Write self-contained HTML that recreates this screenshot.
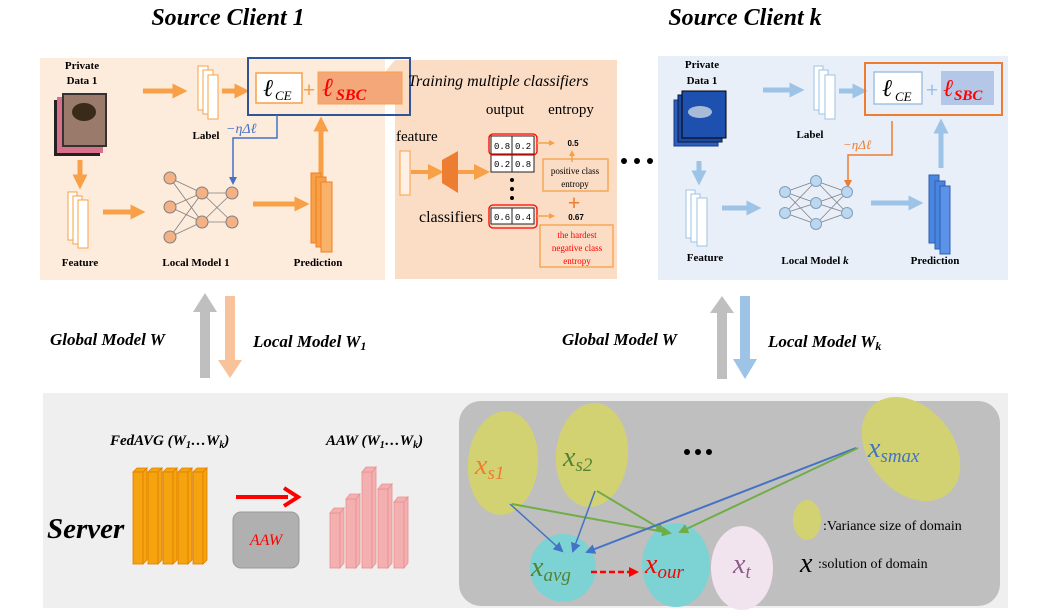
<!DOCTYPE html>
<html><head><meta charset="utf-8"><style>
body{margin:0;background:#fff;}
svg{display:block;}
text{font-family:"Liberation Serif",serif;}
.b{font-weight:bold;}
.bi{font-weight:bold;font-style:italic;}
.i{font-style:italic;}
</style></head><body>
<svg width="1061" height="612" viewBox="0 0 1061 612" xmlns="http://www.w3.org/2000/svg">
<defs>
<marker id="ao" markerWidth="3" markerHeight="3" refX="1.5" refY="1.5" orient="auto" markerUnits="strokeWidth"><path d="M0,0 L3,1.5 L0,3z" fill="#f7a047"/></marker>
<marker id="ao2" markerWidth="4" markerHeight="4" refX="2" refY="2" orient="auto" markerUnits="strokeWidth"><path d="M0,0 L4,2 L0,4z" fill="#f7a047"/></marker>
<marker id="ab" markerWidth="3" markerHeight="3" refX="1.5" refY="1.5" orient="auto" markerUnits="strokeWidth"><path d="M0,0 L3,1.5 L0,3z" fill="#9dc3e6"/></marker>
<marker id="sb" markerWidth="8" markerHeight="8" refX="6" refY="4" orient="auto" markerUnits="userSpaceOnUse"><path d="M0,0 L8,4 L0,8z" fill="#4472c4"/></marker>
<marker id="so" markerWidth="8" markerHeight="8" refX="6" refY="4" orient="auto" markerUnits="userSpaceOnUse"><path d="M0,0 L8,4 L0,8z" fill="#ed7d31"/></marker>
<marker id="lb" markerWidth="10" markerHeight="10" refX="8" refY="5" orient="auto" markerUnits="userSpaceOnUse"><path d="M0,0 L10,5 L0,10z" fill="#4472c4"/></marker>
<marker id="lg" markerWidth="10" markerHeight="10" refX="8" refY="5" orient="auto" markerUnits="userSpaceOnUse"><path d="M0,0 L10,5 L0,10z" fill="#70ad47"/></marker>
<marker id="rd" markerWidth="10" markerHeight="10" refX="6" refY="5" orient="auto" markerUnits="userSpaceOnUse"><path d="M0,0 L10,5 L0,10z" fill="#f00"/></marker>
</defs>

<text x="228" y="25" font-size="24" class="bi" text-anchor="middle">Source Client 1</text>
<text x="745" y="25" font-size="24" class="bi" text-anchor="middle">Source Client k</text>

<rect x="40" y="58" width="345" height="222" fill="#fdebdc"/>
<path d="M385,72 L395,60 L617,60 L617,279 L395,279 L395,80 Z" fill="#fbdcc4"/>

<text x="82" y="69" font-size="11" class="b" text-anchor="middle">Private</text>
<text x="82" y="84" font-size="11" class="b" text-anchor="middle">Data 1</text>
<rect x="54" y="100" width="46" height="56" fill="#222"/>
<rect x="57" y="97" width="46" height="56" fill="#d9708a"/>
<rect x="62" y="93" width="45" height="54" fill="#333"/>
<rect x="64" y="95" width="41" height="50" fill="#9a7a6a"/>
<ellipse cx="84" cy="112" rx="12" ry="9" fill="#3a2a1a"/>

<line x1="143" y1="91" x2="180" y2="91" stroke="#f7a047" stroke-width="5" marker-end="url(#ao)"/>
<rect x="198" y="66" width="10" height="44" fill="#fff" stroke="#f7a047"/>
<rect x="203" y="70" width="10" height="44" fill="#fff" stroke="#f7a047"/>
<rect x="208" y="75" width="10" height="44" fill="#fff" stroke="#f7a047"/>
<text x="206" y="139" font-size="11" class="b" text-anchor="middle">Label</text>
<line x1="222" y1="91" x2="242" y2="91" stroke="#f7a047" stroke-width="5" marker-end="url(#ao)"/>

<rect x="248" y="58" width="162" height="57" fill="none" stroke="#2f5597" stroke-width="2"/>
<rect x="256" y="73" width="46" height="30" fill="#fff" stroke="#f7a047" stroke-width="1.5"/>
<text x="263" y="96" font-size="24" class="i">ℓ</text><text x="275" y="100" font-size="13" class="i">CE</text>
<text x="309" y="97" font-size="22" fill="#f7a047" text-anchor="middle" class="b">+</text>
<rect x="318" y="72" width="84" height="32" fill="#f4a779" stroke="#f7a047"/>
<text x="322" y="96" font-size="26" fill="#f00" class="i">ℓ</text><text x="336" y="100" font-size="16" fill="#f00" class="bi">SBC</text>

<polyline points="277,115 277,138 233,138 233,183" fill="none" stroke="#4472c4" stroke-width="1.5" marker-end="url(#sb)"/>
<text x="226" y="133" font-size="14" fill="#4472c4" class="i">−ηΔℓ</text>
<line x1="321" y1="195" x2="321" y2="124" stroke="#f7a047" stroke-width="5" marker-end="url(#ao)"/>

<line x1="80" y1="160" x2="80" y2="182" stroke="#f7a047" stroke-width="5" marker-end="url(#ao)"/>
<rect x="68" y="192" width="9" height="48" fill="#fff" stroke="#f7a047"/>
<rect x="73" y="196" width="9" height="48" fill="#fff" stroke="#f7a047"/>
<rect x="78" y="200" width="10" height="48" fill="#fff" stroke="#f7a047"/>
<text x="80" y="266" font-size="11" class="b" text-anchor="middle">Feature</text>
<line x1="103" y1="212" x2="138" y2="212" stroke="#f7a047" stroke-width="5" marker-end="url(#ao)"/>

<g stroke="#7f7f7f" stroke-width="0.8">
<line x1="170" y1="178" x2="202" y2="193"/><line x1="170" y1="178" x2="202" y2="222"/>
<line x1="170" y1="207" x2="202" y2="193"/><line x1="170" y1="207" x2="202" y2="222"/>
<line x1="170" y1="237" x2="202" y2="193"/><line x1="170" y1="237" x2="202" y2="222"/>
<line x1="202" y1="193" x2="232" y2="193"/><line x1="202" y1="193" x2="232" y2="222"/>
<line x1="202" y1="222" x2="232" y2="193"/><line x1="202" y1="222" x2="232" y2="222"/>
</g>
<g fill="#f4b183" stroke="#7f7f7f">
<circle cx="170" cy="178" r="6"/><circle cx="170" cy="207" r="6"/><circle cx="170" cy="237" r="6"/>
<circle cx="202" cy="193" r="6"/><circle cx="202" cy="222" r="6"/>
<circle cx="232" cy="193" r="6"/><circle cx="232" cy="222" r="6"/>
</g>
<text x="196" y="266" font-size="11" class="b" text-anchor="middle">Local Model 1</text>
<line x1="253" y1="204" x2="302" y2="204" stroke="#f7a047" stroke-width="5" marker-end="url(#ao)"/>
<rect x="311" y="173" width="10" height="70" fill="#f7a047" stroke="#f08020"/>
<rect x="316" y="177" width="10" height="70" fill="#f7a047" stroke="#f08020"/>
<rect x="321" y="182" width="11" height="70" fill="#f9b26a" stroke="#f08020"/>
<text x="318" y="266" font-size="11" class="b" text-anchor="middle">Prediction</text>

<text x="408" y="86" font-size="16" class="i">Training multiple classifiers</text>
<text x="505" y="114" font-size="15" text-anchor="middle">output</text>
<text x="571" y="114" font-size="15" text-anchor="middle">entropy</text>
<text x="396" y="141" font-size="15">feature</text>
<rect x="400" y="151" width="10" height="44" fill="#fff0e6" stroke="#f7a047"/>
<line x1="411" y1="172" x2="436" y2="172" stroke="#f7a047" stroke-width="4" marker-end="url(#ao2)"/>
<path d="M442,160 L458,151 L458,193 L442,183Z" fill="#ed7d31"/>
<line x1="458" y1="172" x2="482" y2="172" stroke="#f7a047" stroke-width="4" marker-end="url(#ao2)"/>
<g font-size="9">
<rect x="491" y="136" width="43" height="36" fill="#fff" stroke="#222"/>
<line x1="491" y1="154" x2="534" y2="154" stroke="#222"/><line x1="512" y1="136" x2="512" y2="172" stroke="#222"/>
<text x="494" y="149" style="font-family:'Liberation Mono'">0.8</text><text x="515" y="149" style="font-family:'Liberation Mono'">0.2</text>
<text x="494" y="167" style="font-family:'Liberation Mono'">0.2</text><text x="515" y="167" style="font-family:'Liberation Mono'">0.8</text>
<rect x="491" y="208" width="43" height="16" fill="#fff" stroke="#222"/>
<line x1="512" y1="208" x2="512" y2="224" stroke="#222"/>
<text x="494" y="220" style="font-family:'Liberation Mono'">0.6</text><text x="515" y="220" style="font-family:'Liberation Mono'">0.4</text>
</g>
<rect x="489" y="134" width="48" height="21" rx="4" fill="none" stroke="#f00" stroke-width="1.3"/>
<rect x="489" y="205" width="48" height="23" rx="4" fill="none" stroke="#f00" stroke-width="1.3"/>
<circle cx="512" cy="180" r="2" fill="#000"/><circle cx="512" cy="189" r="2" fill="#000"/><circle cx="512" cy="198" r="2" fill="#000"/>
<text x="419" y="222" font-size="16">classifiers</text>
<line x1="537" y1="143" x2="552" y2="143" stroke="#f7a047" stroke-width="1.5" marker-end="url(#ao2)"/>
<line x1="537" y1="216" x2="552" y2="216" stroke="#f7a047" stroke-width="1.5" marker-end="url(#ao2)"/>
<text x="573" y="146" font-size="8" class="b" text-anchor="middle" style="font-family:'Liberation Sans'">0.5</text>
<text x="576" y="220" font-size="8" class="b" text-anchor="middle" style="font-family:'Liberation Sans'">0.67</text>
<line x1="572" y1="162" x2="572" y2="153" stroke="#f7a047" stroke-width="1.5" marker-end="url(#ao2)"/>
<rect x="543" y="159" width="65" height="32" fill="none" stroke="#f7a047" stroke-width="1.3"/>
<text x="575" y="174" font-size="9" text-anchor="middle">positive class</text>
<text x="575" y="187" font-size="9" text-anchor="middle">entropy</text>
<text x="574" y="210" font-size="22" fill="#ed7d31" text-anchor="middle" class="b">+</text>
<rect x="540" y="225" width="73" height="42" fill="none" stroke="#f7a047" stroke-width="1.3"/>
<text x="577" y="238" font-size="9" fill="#f00" text-anchor="middle">the hardest</text>
<text x="577" y="251" font-size="9" fill="#f00" text-anchor="middle">negative class</text>
<text x="577" y="264" font-size="9" fill="#f00" text-anchor="middle">entropy</text>

<circle cx="624" cy="161" r="3" fill="#000"/><circle cx="637" cy="161" r="3" fill="#000"/><circle cx="650" cy="161" r="3" fill="#000"/>

<rect x="658" y="56" width="350" height="224" fill="#e8eff9"/>
<text x="702" y="68" font-size="11" class="b" text-anchor="middle">Private</text>
<text x="702" y="84" font-size="11" class="b" text-anchor="middle">Data 1</text>
<rect x="674" y="100" width="44" height="46" fill="#2e5fbf" stroke="#1a3a80"/>
<rect x="678" y="95" width="44" height="47" fill="#1f4aa0" stroke="#0a1a40"/>
<rect x="682" y="91" width="44" height="47" fill="#1e50b0" stroke="#000"/>
<ellipse cx="700" cy="112" rx="12" ry="6" fill="#a8bcd8"/>
<line x1="763" y1="90" x2="797" y2="90" stroke="#9dc3e6" stroke-width="5" marker-end="url(#ab)"/>
<rect x="814" y="66" width="9" height="44" fill="#fff" stroke="#9dc3e6"/>
<rect x="819" y="70" width="9" height="44" fill="#fff" stroke="#9dc3e6"/>
<rect x="825" y="75" width="10" height="44" fill="#fff" stroke="#9dc3e6"/>
<text x="810" y="138" font-size="11" class="b" text-anchor="middle">Label</text>
<line x1="839" y1="91" x2="860" y2="91" stroke="#9dc3e6" stroke-width="5" marker-end="url(#ab)"/>
<rect x="865" y="63" width="137" height="52" fill="none" stroke="#ed7d31" stroke-width="2"/>
<rect x="874" y="72" width="48" height="32" fill="#fff" stroke="#9dc3e6" stroke-width="1.5"/>
<text x="882" y="96" font-size="24" class="i">ℓ</text><text x="895" y="101" font-size="13" class="i">CE</text>
<text x="932" y="97" font-size="22" fill="#9dc3e6" text-anchor="middle" class="b">+</text>
<rect x="941" y="71" width="53" height="34" fill="#b4c7e7"/>
<text x="943" y="96" font-size="24" fill="#f00" class="i">ℓ</text><text x="954" y="100" font-size="15" fill="#f00" class="bi">SBC</text>
<polyline points="892,121 892,155 848,155 848,186" fill="none" stroke="#ed7d31" stroke-width="1.5" marker-end="url(#so)"/>
<text x="843" y="149" font-size="13" fill="#ed7d31" class="i">−ηΔℓ</text>
<line x1="941" y1="168" x2="941" y2="126" stroke="#9dc3e6" stroke-width="5" marker-end="url(#ab)"/>
<line x1="699" y1="161" x2="699" y2="178" stroke="#9dc3e6" stroke-width="5" marker-end="url(#ab)"/>
<rect x="686" y="190" width="9" height="48" fill="#fff" stroke="#9dc3e6"/>
<rect x="691" y="194" width="9" height="48" fill="#fff" stroke="#9dc3e6"/>
<rect x="697" y="198" width="10" height="48" fill="#fff" stroke="#9dc3e6"/>
<text x="705" y="261" font-size="11" class="b" text-anchor="middle">Feature</text>
<line x1="722" y1="208" x2="754" y2="208" stroke="#9dc3e6" stroke-width="5" marker-end="url(#ab)"/>
<g stroke="#7f7f7f" stroke-width="0.8">
<line x1="785" y1="192" x2="816" y2="181"/><line x1="785" y1="192" x2="816" y2="203"/><line x1="785" y1="192" x2="816" y2="224"/>
<line x1="785" y1="213" x2="816" y2="181"/><line x1="785" y1="213" x2="816" y2="203"/><line x1="785" y1="213" x2="816" y2="224"/>
<line x1="816" y1="181" x2="847" y2="192"/><line x1="816" y1="181" x2="847" y2="213"/>
<line x1="816" y1="203" x2="847" y2="192"/><line x1="816" y1="203" x2="847" y2="213"/>
<line x1="816" y1="224" x2="847" y2="192"/><line x1="816" y1="224" x2="847" y2="213"/>
</g>
<g fill="#bdd7ee" stroke="#7f9fbf">
<circle cx="785" cy="192" r="5.5"/><circle cx="785" cy="213" r="5.5"/>
<circle cx="816" cy="181" r="5.5"/><circle cx="816" cy="203" r="5.5"/><circle cx="816" cy="224" r="5.5"/>
<circle cx="847" cy="192" r="5.5"/><circle cx="847" cy="213" r="5.5"/>
</g>
<text x="815" y="264" font-size="11" class="b" text-anchor="middle">Local Model <tspan class="bi">k</tspan></text>
<line x1="871" y1="203" x2="916" y2="203" stroke="#9dc3e6" stroke-width="5" marker-end="url(#ab)"/>
<rect x="929" y="175" width="10" height="68" fill="#4a86e0" stroke="#2f5fb0"/>
<rect x="935" y="181" width="10" height="68" fill="#4a86e0" stroke="#2f5fb0"/>
<rect x="940" y="186" width="10" height="68" fill="#5b93e8" stroke="#2f5fb0"/>
<text x="935" y="264" font-size="11" class="b" text-anchor="middle">Prediction</text>

<path d="M200,378 L200,312 L193,312 L205,293 L217,312 L210,312 L210,378Z" fill="#bfbfbf"/>
<path d="M225,296 L235,296 L235,360 L242,360 L230,378 L218,360 L225,360Z" fill="#f8c29a"/>
<text x="50" y="345" font-size="17" class="bi">Global Model W</text>
<text x="253" y="347" font-size="17" class="bi">Local Model W<tspan font-size="12" dy="3">1</tspan></text>
<path d="M717,379 L717,313 L710,313 L722,296 L734,313 L727,313 L727,379Z" fill="#bfbfbf"/>
<path d="M740,296 L750,296 L750,359 L757,359 L745,379 L733,359 L740,359Z" fill="#9dc3e6"/>
<text x="562" y="345" font-size="17" class="bi">Global Model W</text>
<text x="768" y="347" font-size="17" class="bi">Local Model W<tspan font-size="12" dy="3">k</tspan></text>

<rect x="43" y="393" width="965" height="215" fill="#efefef"/>
<rect x="459" y="401" width="541" height="205" rx="22" fill="#bfbfbf"/>
<text x="110" y="445" font-size="15" class="bi">FedAVG (W<tspan font-size="10" dy="3">1</tspan><tspan dy="-3">…W</tspan><tspan font-size="10" dy="3">k</tspan><tspan dy="-3">)</tspan></text>
<text x="326" y="445" font-size="15" class="bi">AAW (W<tspan font-size="10" dy="3">1</tspan><tspan dy="-3">…W</tspan><tspan font-size="10" dy="3">k</tspan><tspan dy="-3">)</tspan></text>
<text x="47" y="538" font-size="29" class="bi">Server</text>
<g fill="#f5a30f" stroke="#e07e00" stroke-width="0.8">
<path d="M133,472 L137,468 L147,468 L143,472Z"/><rect x="133" y="472" width="10" height="92"/><path d="M143,472 L147,468 L147,560 L143,564Z"/>
<path d="M148,472 L152,468 L162,468 L158,472Z"/><rect x="148" y="472" width="10" height="92"/><path d="M158,472 L162,468 L162,560 L158,564Z"/>
<path d="M163,472 L167,468 L177,468 L173,472Z"/><rect x="163" y="472" width="10" height="92"/><path d="M173,472 L177,468 L177,560 L173,564Z"/>
<path d="M178,472 L182,468 L192,468 L188,472Z"/><rect x="178" y="472" width="10" height="92"/><path d="M188,472 L192,468 L192,560 L188,564Z"/>
<path d="M193,472 L197,468 L207,468 L203,472Z"/><rect x="193" y="472" width="10" height="92"/><path d="M203,472 L207,468 L207,560 L203,564Z"/>
</g>
<line x1="236" y1="497" x2="288" y2="497" stroke="#f00" stroke-width="4"/>
<path d="M284,488 L298,497 L284,506" fill="none" stroke="#f00" stroke-width="4"/>
<rect x="233" y="512" width="66" height="56" rx="8" fill="#b0b0b0" stroke="#999"/>
<text x="266" y="545" font-size="16" fill="#f00" class="i" text-anchor="middle">AAW</text>
<g fill="#f4b0b0" stroke="#e89090" stroke-width="0.8">
<rect x="330" y="513" width="10" height="55"/><path d="M330,513 L334,508 L344,508 L340,513Z"/><path d="M340,513 L344,508 L344,563 L340,568Z"/>
<rect x="346" y="499" width="10" height="69"/><path d="M346,499 L350,494 L360,494 L356,499Z"/><path d="M356,499 L360,494 L360,563 L356,568Z"/>
<rect x="362" y="472" width="10" height="96"/><path d="M362,472 L366,467 L376,467 L372,472Z"/><path d="M372,472 L376,467 L376,563 L372,568Z"/>
<rect x="378" y="489" width="10" height="79"/><path d="M378,489 L382,484 L392,484 L388,489Z"/><path d="M388,489 L392,484 L392,563 L388,568Z"/>
<rect x="394" y="502" width="10" height="66"/><path d="M394,502 L398,497 L408,497 L404,502Z"/><path d="M404,502 L408,497 L408,563 L404,568Z"/>
</g>

<ellipse cx="503" cy="463" rx="35" ry="52" fill="#d3d272" transform="rotate(5 503 463)"/>
<ellipse cx="592" cy="455" rx="36" ry="52" fill="#d3d272" transform="rotate(5 592 455)"/>
<ellipse cx="911" cy="449" rx="42" ry="58" fill="#d3d272" transform="rotate(-40 911 449)"/>
<ellipse cx="807" cy="520" rx="14" ry="20" fill="#d3d272"/>
<ellipse cx="563" cy="568" rx="33" ry="34" fill="#7dd3d3"/>
<ellipse cx="676" cy="565" rx="34" ry="42" fill="#7dd3d3"/>
<ellipse cx="742" cy="568" rx="31" ry="42" fill="#f2e4ee"/>
<circle cx="687" cy="452" r="3" fill="#000"/><circle cx="698" cy="452" r="3" fill="#000"/><circle cx="709" cy="452" r="3" fill="#000"/>

<g stroke-width="1.5" fill="none">
<line x1="510" y1="504" x2="562" y2="551" stroke="#4472c4" marker-end="url(#lb)"/>
<line x1="512" y1="504" x2="670" y2="533" stroke="#70ad47" stroke-width="2" marker-end="url(#lg)"/>
<line x1="595" y1="491" x2="573" y2="551" stroke="#4472c4" marker-end="url(#lb)"/>
<line x1="597" y1="491" x2="664" y2="531" stroke="#70ad47" stroke-width="2" marker-end="url(#lg)"/>
<line x1="856" y1="448" x2="587" y2="552" stroke="#4472c4" stroke-width="2" marker-end="url(#lb)"/>
<line x1="858" y1="448" x2="680" y2="532" stroke="#70ad47" stroke-width="2" marker-end="url(#lg)"/>
<line x1="591" y1="572" x2="635" y2="572" stroke="#f00" stroke-width="2.5" stroke-dasharray="6,3" marker-end="url(#rd)"/>
</g>

<g class="i" font-size="28">
<text x="475" y="474" fill="#ed7d31">x<tspan font-size="19" dy="5">s1</tspan></text>
<text x="563" y="466" fill="#548235">x<tspan font-size="19" dy="5">s2</tspan></text>
<text x="868" y="457" fill="#4472c4">x<tspan font-size="19" dy="5">smax</tspan></text>
<text x="531" y="576" fill="#548235">x<tspan font-size="19" dy="5">avg</tspan></text>
<text x="645" y="573" fill="#f00">x<tspan font-size="19" dy="5">our</tspan></text>
<text x="733" y="573" fill="#8c5a8c">x<tspan font-size="19" dy="5">t</tspan></text>
<text x="800" y="572" fill="#000">x</text>
</g>
<text x="823" y="530" font-size="14">:Variance size of domain</text>
<text x="818" y="568" font-size="14">:solution of domain</text>
</svg>
</body></html>
